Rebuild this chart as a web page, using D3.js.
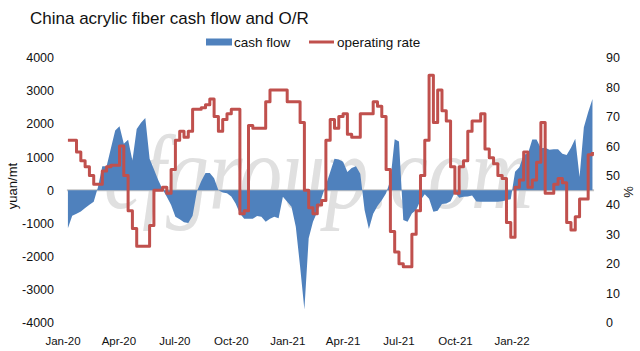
<!DOCTYPE html>
<html lang="en">
<head>
<meta charset="UTF-8">
<title>China acrylic fiber cash flow and O/R</title>
<script src="https://d3js.org/d3.v7.min.js"></script>
<style>
    body { margin: 0; background: #fff; }
    svg { display: block; font-family: "Liberation Sans", Arial, sans-serif; }
    .tick { font-size: 12.5px; fill: #111; }
    .xtick { font-size: 11.5px; fill: #111; }
</style>
</head>
<body>
<svg width="640" height="351"></svg>
<script>
// weekly data, first week of Jan-20
const startDate = new Date(2020, 0, 9);

// cash flow, yuan/mt
const cashFlow = [
    -1150, -770, -710, -640, -540, -440, -350, 100, 725, 725,
    1270, 1800, 1930, 1400, 1520, 900, 1850, 2040, 2180, 950,
    630, 310, 30, -200, -450, -800, -880, -970, -990, -770,
    -40, 270, 520, 520, 360, 0, -70, -95, -190, -400,
    -700, -860, -860, -860, -780, -800, -950, -860, -800, -850,
    -200, -350, -500, -1100, -2300, -3600, -1450, -950, -650, -230,
    160, 550, 950, 930, 860, 550, 670, 720, 500, -600,
    -1170, -710, -480, -300, -90, 300, 1540, 1470, -900, -950,
    -700, -600, -300, -120, -260, -650, -620, -420, -400, -330,
    -60, -230, -200, -190, -160, -340, -350, -350, -350, -350,
    -350, -330, -300, -270, 560, 690, 1070, 1110, 1530, 1530,
    1270, 1280, 1220, 1240, 1240, 1100, 1060, 1280, 1550, 400,
    1900, 2350, 2750
];

// operating rate, %
const opRate = [
    62, 62, 58, 55, 53, 50, 47, 47, 51.5, 53,
    53.5, 53.5, 60, 50, 38, 32, 26, 26, 26, 33,
    45, 45, 46, 44, 52, 62, 65, 63, 65, 72.5,
    72.5, 73, 74, 76, 70, 65, 69, 71, 72.5, 72.5,
    37, 38, 67, 66, 66, 66, 75, 79, 79, 79,
    79, 75, 75, 75, 68, 45, 39, 37, 40, 41.5,
    62, 69, 66, 70, 71, 64, 63, 63, 71, 71,
    71, 75, 73.5, 70, 52, 31, 24, 20, 19, 19,
    30, 38, 50, 62, 84, 68, 79, 72, 68.5, 53,
    44, 53, 55, 65, 68.5, 68.5, 71, 59, 56, 54,
    50, 49, 34, 29, 46, 48.5, 58, 46, 48.5, 54.5,
    68, 44, 44, 47, 49, 47.5, 34, 31.5, 36, 42,
    42, 57, 58
];

const xTickLabels = ["Jan-20", "Apr-20", "Jul-20", "Oct-20", "Jan-21", "Apr-21", "Jul-21", "Oct-21", "Jan-22"];
const leftTicks = [4000, 3000, 2000, 1000, 0, -1000, -2000, -3000, -4000];
const rightTicks = [90, 80, 70, 60, 50, 40, 30, 20, 10, 0];

const dates = cashFlow.map((d, i) => d3.timeDay.offset(startDate, 7 * i));
const parseLabel = d3.timeParse("%b-%y");

const svg = d3.select("svg");

// scales
const x = d3.scaleTime()
    .domain([new Date(2020, 0, 1), new Date(2022, 0, 1)])
    .range([63, 512]);
const yL = d3.scaleLinear().domain([-4000, 4000]).range([322.7, 57.7]);
const yR = d3.scaleLinear().domain([0, 90]).range([322.7, 57.7]);

const x0 = x(dates[0]);
const x1 = x(dates[dates.length - 1]) + 1.6;

// title
svg.append("text")
    .attr("x", 30).attr("y", 24)
    .attr("font-size", 17).attr("fill", "#111")
    .text("China acrylic fiber cash flow and O/R");

// legend
svg.append("rect")
    .attr("x", 206).attr("y", 38.5).attr("width", 26).attr("height", 7)
    .attr("fill", "#4f81bd");
svg.append("text")
    .attr("x", 234).attr("y", 47)
    .attr("font-size", 13.5).attr("fill", "#111")
    .text("cash flow");
svg.append("line")
    .attr("x1", 309).attr("x2", 334).attr("y1", 42).attr("y2", 42)
    .attr("stroke", "#c0504d").attr("stroke-width", 3);
svg.append("text")
    .attr("x", 337).attr("y", 47)
    .attr("font-size", 13.5).attr("fill", "#111")
    .text("operating rate");

// watermark, stretched a bit vertically
svg.append("text")
    .attr("transform", "translate(104,208) scale(1,1.22)")
    .attr("font-family", "Liberation Serif, serif")
    .attr("font-style", "italic")
    .attr("font-size", 86)
    .attr("fill", "#e0e0e0")
    .text("cfgroup.com");

// zero line
svg.append("line")
    .attr("x1", x0 - 1).attr("x2", x1)
    .attr("y1", yL(0)).attr("y2", yL(0))
    .attr("stroke", "#c4c4c4").attr("stroke-width", 2);

// cash flow area
const area = d3.area()
    .x((d, i) => x(dates[i]))
    .y0(yL(0))
    .y1(d => yL(d));

svg.append("path")
    .datum(cashFlow)
    .attr("d", area)
    .attr("fill", "#4f81bd");

// operating rate line
const line = d3.line()
    .x((d, i) => x(dates[i]))
    .y(d => yR(d))
    .curve(d3.curveStepAfter);

svg.append("path")
    .datum(opRate)
    .attr("d", line)
    .attr("fill", "none")
    .attr("stroke", "#c0504d")
    .attr("stroke-width", 3)
    .attr("stroke-linejoin", "round");

// left axis labels
svg.append("g").selectAll("text")
    .data(leftTicks)
    .join("text")
    .attr("class", "tick")
    .attr("x", 54)
    .attr("y", d => yL(d) + 4.5)
    .attr("text-anchor", "end")
    .text(d => d);

// right axis labels
svg.append("g").selectAll("text")
    .data(rightTicks)
    .join("text")
    .attr("class", "tick")
    .attr("x", 606)
    .attr("y", d => yR(d) + 4.5)
    .text(d => d);

// x axis labels
svg.append("g").selectAll("text")
    .data(xTickLabels)
    .join("text")
    .attr("class", "xtick")
    .attr("x", d => x(parseLabel(d)))
    .attr("y", 345)
    .attr("text-anchor", "middle")
    .text(d => d);

// axis titles
svg.append("text")
    .attr("transform", "translate(17,186) rotate(-90)")
    .attr("text-anchor", "middle")
    .attr("font-size", 13).attr("fill", "#111")
    .text("yuan/mt");
svg.append("text")
    .attr("transform", "translate(633,192) rotate(-90)")
    .attr("text-anchor", "middle")
    .attr("font-size", 13).attr("fill", "#111")
    .text("%");
</script>
</body>
</html>
